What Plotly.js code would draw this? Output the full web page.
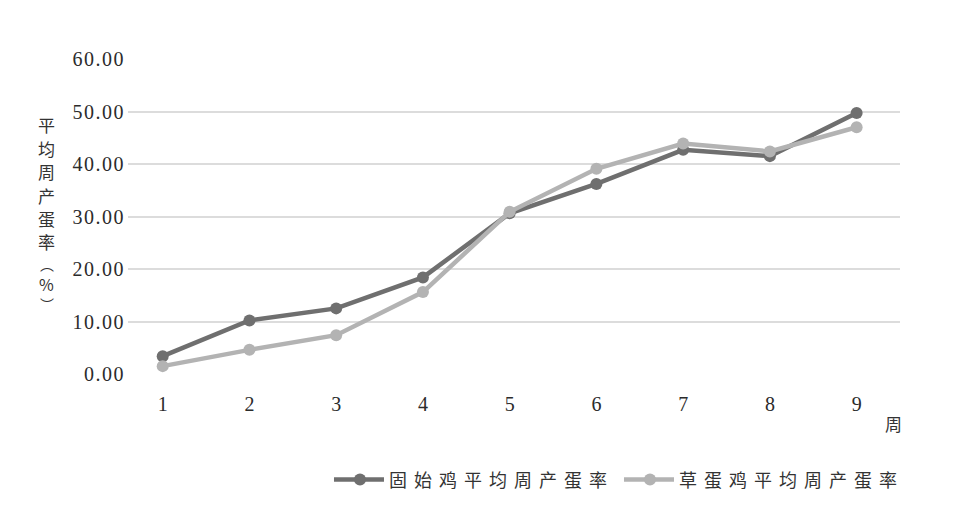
<!DOCTYPE html>
<html>
<head>
<meta charset="utf-8">
<script src="https://cdn.plot.ly/plotly-3.0.1.min.js"></script>
<style>
body{margin:0;padding:0;background:#fff;}
#chart{width:966px;height:509px;}
.ytick text{letter-spacing:1.5px;}
.legendtext{letter-spacing:7px;}
</style>
</head>
<body>
<div id="chart"></div>
<script>
const weeks = ['1','2','3','4','5','6','7','8','9'];
const gushiRate = [3.4, 10.2, 12.5, 18.4, 30.6, 36.2, 42.7, 41.5, 49.7];
const caodanRate = [1.5, 4.6, 7.4, 15.6, 30.9, 39.1, 43.9, 42.4, 47.0];
const seriesNames = ['固始鸡平均周产蛋率', '草蛋鸡平均周产蛋率'];
const yTickVals = [0, 10, 20, 30, 40, 50, 60];
const yTickText = ['0.00', '10.00', '20.00', '30.00', '40.00', '50.00', '60.00'];
const yTitleChars = ['平', '均', '周', '产', '蛋', '率', '︵', '%', '︶'];
const xTitle = '周';

// layout-only: pixel rows of the stacked y-title characters and their sizes
const yTitleRows = [125, 148.5, 172, 195.5, 219, 242.5, 265, 285, 305];
const yTitleSizes = [17, 17, 17, 17, 17, 17, 14, 16, 14];

const data = [
  {x: weeks.map(Number), y: gushiRate, name: seriesNames[0], type: 'scatter', mode: 'lines+markers',
   line: {color: '#6f6f6f', width: 4.5}, marker: {color: '#6f6f6f', size: 12}},
  {x: weeks.map(Number), y: caodanRate, name: seriesNames[1], type: 'scatter', mode: 'lines+markers',
   line: {color: '#b3b3b3', width: 4.5}, marker: {color: '#b3b3b3', size: 12}}
];

const cjkFont = '"Noto Sans CJK SC", sans-serif';
const annotations = yTitleChars.map((ch, i) => ({
  text: ch, xref: 'paper', yref: 'paper',
  x: -0.105, y: (375 - yTitleRows[i]) / 316,
  xanchor: 'center', yanchor: 'middle', showarrow: false,
  font: {family: cjkFont, size: yTitleSizes[i], color: '#333'}
}));
annotations.push({text: xTitle, xref: 'paper', yref: 'paper', x: 0.991, y: -0.158,
  xanchor: 'center', yanchor: 'middle', showarrow: false,
  font: {family: cjkFont, size: 17, color: '#333'}});

const layout = {
  width: 966, height: 509,
  margin: {l: 128, r: 66, t: 59, b: 134},
  paper_bgcolor: '#fff', plot_bgcolor: '#fff',
  showlegend: true,
  font: {family: '"Liberation Serif", "Noto Sans CJK SC", serif', color: '#2b2b2b'},
  xaxis: {
    range: [0.6, 9.5], tickvals: weeks.map(Number), ticktext: weeks,
    showgrid: false, zeroline: false, showline: false, ticks: '',
    ticklabelstandoff: 16,
    tickfont: {family: '"Liberation Serif", serif', size: 20, color: '#2b2b2b'}
  },
  yaxis: {
    range: [0, 60], tickvals: yTickVals, ticktext: yTickText,
    showgrid: true, gridcolor: '#dcdcdc', gridwidth: 2, zeroline: false, showline: false, ticks: '',
    ticklabelstandoff: 2,
    tickfont: {family: '"Liberation Serif", serif', size: 20, color: '#2b2b2b'}
  },
  legend: {
    orientation: 'h', x: 0.636, xanchor: 'center', y: -0.332, yanchor: 'middle',
    font: {family: cjkFont, size: 18, color: '#333'},
    itemwidth: 50
  },
  annotations: annotations
};

Plotly.newPlot('chart', data, layout, {displayModeBar: false, staticPlot: true}).then(() => {
  document.querySelectorAll('.legend .legendlines path').forEach(p => p.setAttribute('d', 'M5,0h50'));
  document.querySelectorAll('.legend .legendpoints path').forEach(p => p.setAttribute('transform', 'translate(31,0)'));
});
</script>
</body>
</html>
